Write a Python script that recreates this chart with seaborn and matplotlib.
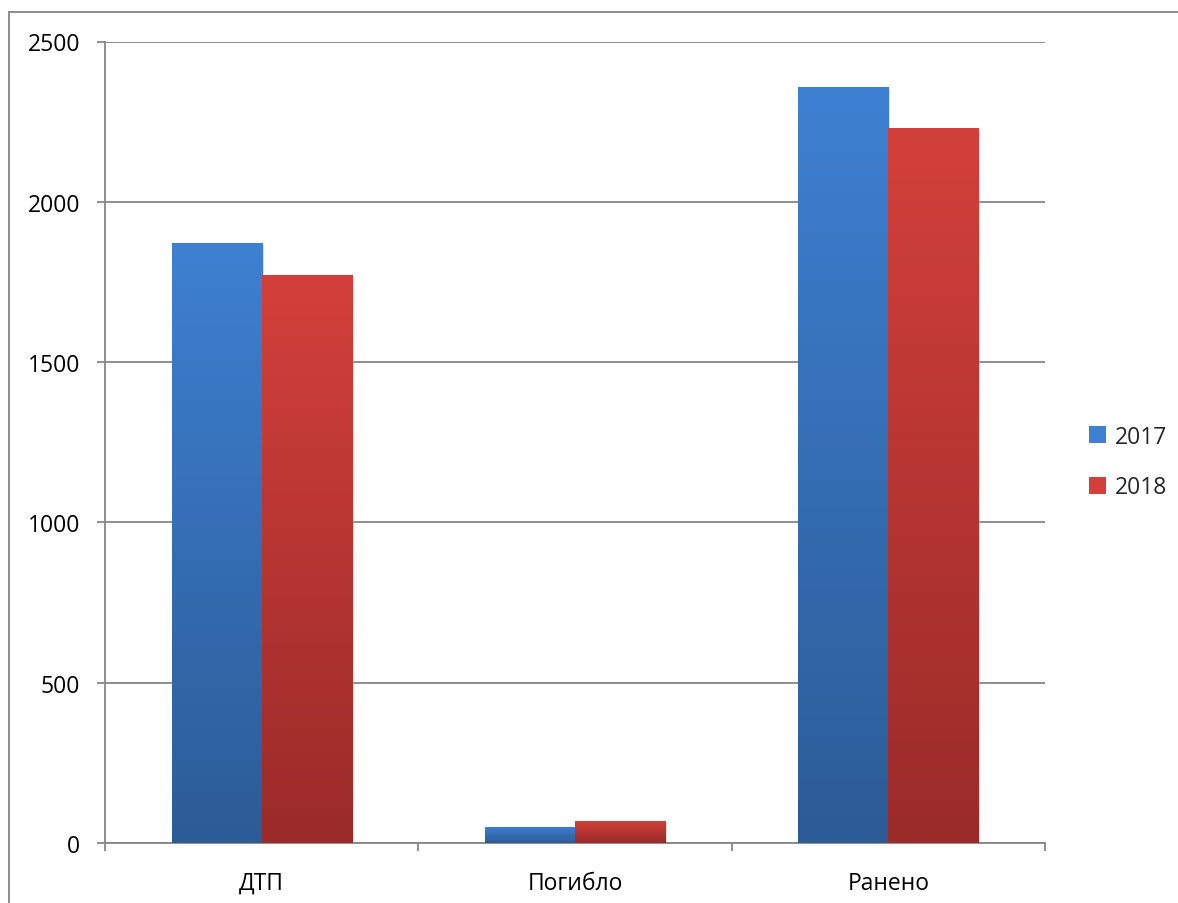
import numpy as np
import pandas as pd
import matplotlib
matplotlib.use("Agg")
import matplotlib.pyplot as plt
import seaborn as sns
from matplotlib.colors import LinearSegmentedColormap
from matplotlib.lines import Line2D
from matplotlib.patches import Patch

categories = ["ДТП", "Погибло", "Ранено"]
values_2017 = [1872, 51, 2359]
values_2018 = [1772, 70, 2231]
series = ["2017", "2018"]
y_ticks = [0, 500, 1000, 1500, 2000, 2500]

top_colors = {"2017": "#3e80d2", "2018": "#d3403b"}
bot_colors = {"2017": "#2c5c97", "2018": "#9a2b29"}

df = pd.DataFrame({
    "cat": categories * 2,
    "year": ["2017"] * 3 + ["2018"] * 3,
    "val": values_2017 + values_2018,
})

sns.set_style("white")
plt.rcParams["font.family"] = ["Open Sans", "DejaVu Sans"]

fig = plt.figure(figsize=(11.78, 9.04), dpi=100)
W, H = 1178, 904
ax = fig.add_axes([105 / W, 1 - 844 / H, (1045 - 105) / W, (844 - 42.5) / H])

sns.barplot(data=df, x="cat", y="val", hue="year", order=categories,
            hue_order=series, palette=[top_colors[s] for s in series],
            width=0.575, gap=0, ax=ax, legend=False, zorder=3, saturation=1)

ax.set_ylim(0, 2500)
ax.set_xlim(-0.5, 2.5)
ax.set_yticks(y_ticks)
ax.set_xlabel("")
ax.set_ylabel("")
ax.yaxis.grid(True, color="#868686", linewidth=1.3, zorder=0)
ax.set_axisbelow(True)

# gradient fills on each bar
for i, s in enumerate(series):
    cont = ax.containers[i]
    cmap = LinearSegmentedColormap.from_list("g" + s, [bot_colors[s], top_colors[s]])
    for bar in cont:
        x0, y0 = bar.get_x(), bar.get_y()
        w, h = bar.get_width(), bar.get_height()
        # shadow
        ax.add_patch(plt.Rectangle((x0 + 0.006, y0 - 6), w, h, facecolor="#bbbbbb",
                                   alpha=0.5, edgecolor="none", zorder=2))
        grad = np.linspace(0, 1, 256).reshape(-1, 1)
        im = ax.imshow(grad, cmap=cmap, origin="lower", aspect="auto",
                       extent=[x0, x0 + w, y0, y0 + h], zorder=3.5)
        im.set_clip_path(bar)
        bar.set_edgecolor("none")

ax.set_xlim(-0.5, 2.5)
ax.set_ylim(0, 2500)

for side in ["top", "right"]:
    ax.spines[side].set_visible(False)
for side in ["left", "bottom"]:
    ax.spines[side].set_color("#868686")
    ax.spines[side].set_linewidth(1.3)

ax.tick_params(axis="y", which="major", length=6, width=1.3, color="#868686",
               pad=12, labelsize=16.5, labelcolor="black", left=True)
ax.set_xticks([-0.5, 0.5, 1.5, 2.5], minor=True)
ax.tick_params(axis="x", which="minor", length=5.5, width=1.3, color="#868686",
               direction="out", bottom=True)
ax.tick_params(axis="x", which="major", length=0, pad=20, labelsize=16.5,
               labelcolor="black")

handles = [Patch(facecolor=top_colors[s], edgecolor="none") for s in series]
leg = fig.legend(handles, series, loc="center left",
                 bbox_to_anchor=(1068 / W, 1 - 463 / H), frameon=False,
                 fontsize=16.5, handlelength=0.75, handleheight=0.75,
                 handletextpad=0.4, labelspacing=1.15)

# outer chart border
fig.add_artist(Line2D([9 / W, 9 / W], [1 - 13 / H, -0.1], transform=fig.transFigure,
                      color="#868686", linewidth=1.3))
fig.add_artist(Line2D([9 / W, 1.1], [1 - 13 / H, 1 - 13 / H], transform=fig.transFigure,
                      color="#868686", linewidth=1.3))

fig.savefig("out.png", dpi=100, facecolor="white")
